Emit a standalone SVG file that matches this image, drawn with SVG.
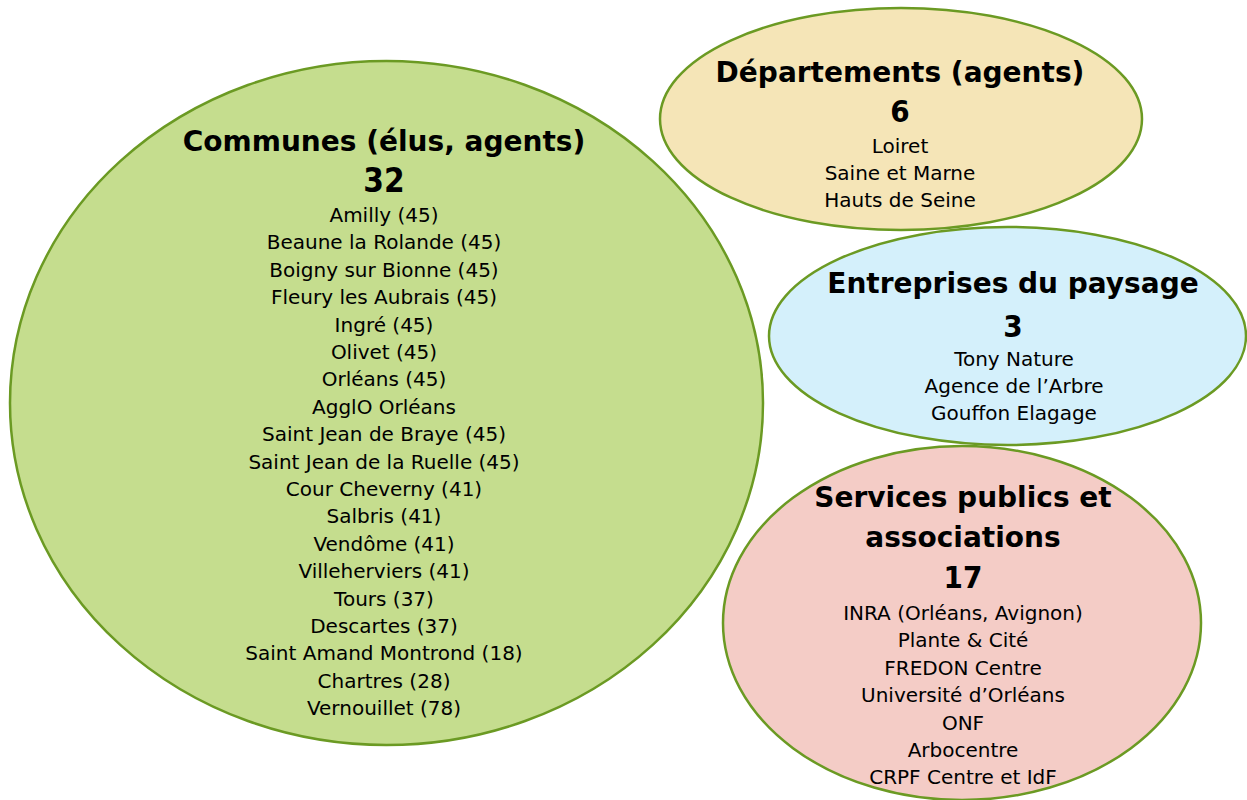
<svg xmlns="http://www.w3.org/2000/svg" width="1247" height="800" viewBox="0 0 1247 800">
<style>
.sh{stroke:#6B9A23;stroke-width:2.5}
text{font-family:"DejaVu Sans",sans-serif;text-anchor:middle;fill:#000}
.t{font-size:28px;font-weight:bold}
.n{font-size:31px;font-weight:bold;font-family:"DejaVu Sans Condensed","DejaVu Sans",sans-serif;font-stretch:condensed}
.nb{font-size:33px;font-weight:bold;font-family:"DejaVu Sans Condensed","DejaVu Sans",sans-serif;font-stretch:condensed}
.i{font-size:20px}
</style>
<rect width="1247" height="800" fill="#fff"/>
<g id="communes">
<ellipse class="sh" cx="386.5" cy="403" rx="376.5" ry="342" fill="#C5DD8E"/>
<text class="t" x="384" y="151">Communes (élus, agents)</text>
<text class="nb" x="384" y="192">32</text>
<text class="i" x="384" y="222">Amilly (45)</text>
<text class="i" x="384" y="249.4">Beaune la Rolande (45)</text>
<text class="i" x="384" y="276.8">Boigny sur Bionne (45)</text>
<text class="i" x="384" y="304.2">Fleury les Aubrais (45)</text>
<text class="i" x="384" y="331.6">Ingré (45)</text>
<text class="i" x="384" y="359">Olivet (45)</text>
<text class="i" x="384" y="386.4">Orléans (45)</text>
<text class="i" x="384" y="413.8">AgglO Orléans</text>
<text class="i" x="384" y="441.2">Saint Jean de Braye (45)</text>
<text class="i" x="384" y="468.6">Saint Jean de la Ruelle (45)</text>
<text class="i" x="384" y="496">Cour Cheverny (41)</text>
<text class="i" x="384" y="523.4">Salbris (41)</text>
<text class="i" x="384" y="550.8">Vendôme (41)</text>
<text class="i" x="384" y="578.2">Villeherviers (41)</text>
<text class="i" x="384" y="605.6">Tours (37)</text>
<text class="i" x="384" y="633">Descartes (37)</text>
<text class="i" x="384" y="660.4">Saint Amand Montrond (18)</text>
<text class="i" x="384" y="687.8">Chartres (28)</text>
<text class="i" x="384" y="715.2">Vernouillet (78)</text>
</g>
<g id="departements">
<ellipse class="sh" cx="901" cy="119" rx="241" ry="111" fill="#F5E5B7"/>
<text class="t" x="900" y="82">Départements (agents)</text>
<text class="n" x="900" y="122">6</text>
<text class="i" x="900" y="153">Loiret</text>
<text class="i" x="900" y="180">Saine et Marne</text>
<text class="i" x="900" y="207">Hauts de Seine</text>
</g>
<g id="entreprises">
<ellipse class="sh" cx="1007.5" cy="336" rx="238.5" ry="109" fill="#D4F0FB"/>
<text class="t" x="1013" y="293">Entreprises du paysage</text>
<text class="n" x="1013" y="337">3</text>
<text class="i" x="1014" y="366">Tony Nature</text>
<text class="i" x="1014" y="393">Agence de l’Arbre</text>
<text class="i" x="1014" y="420">Gouffon Elagage</text>
</g>
<g id="services">
<ellipse class="sh" cx="962" cy="623" rx="239" ry="177" fill="#F4CCC6"/>
<text class="t" x="963" y="507">Services publics et</text>
<text class="t" x="963" y="547">associations</text>
<text class="n" x="963" y="588">17</text>
<text class="i" x="963" y="620">INRA (Orléans, Avignon)</text>
<text class="i" x="963" y="647.4">Plante &amp; Cité</text>
<text class="i" x="963" y="674.8">FREDON Centre</text>
<text class="i" x="963" y="702.2">Université d’Orléans</text>
<text class="i" x="963" y="729.6">ONF</text>
<text class="i" x="963" y="757">Arbocentre</text>
<text class="i" x="963" y="784.4">CRPF Centre et IdF</text>
</g>
<g id="connectors"/>
</svg>
